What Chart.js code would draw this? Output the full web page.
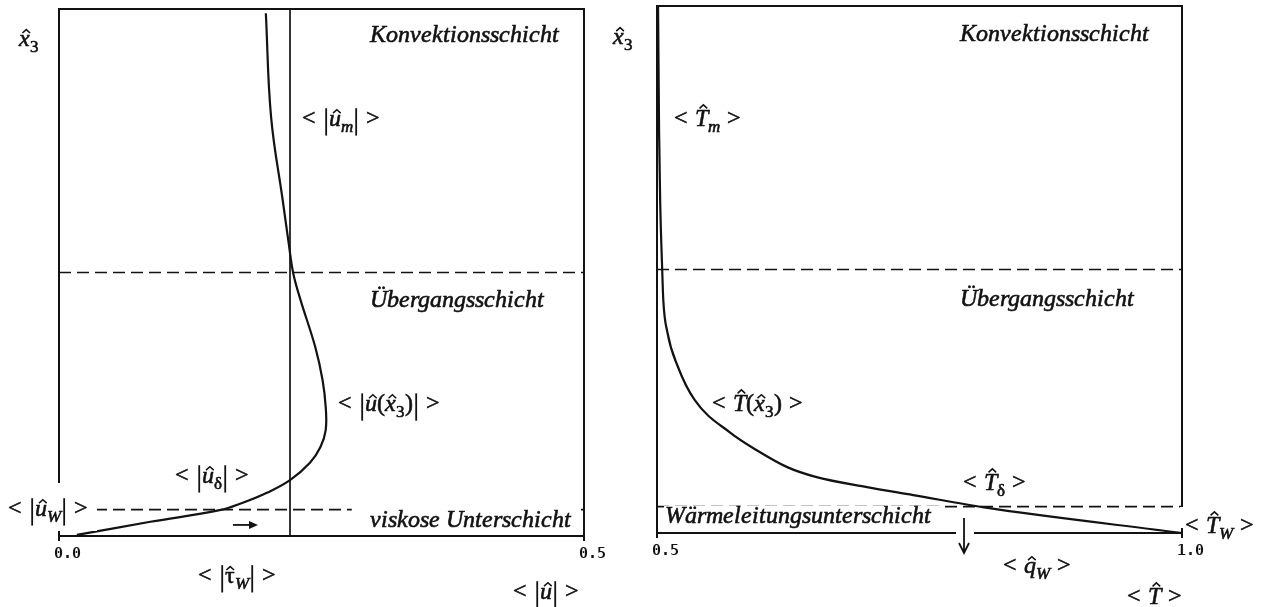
<!DOCTYPE html>
<html>
<head>
<meta charset="utf-8">
<script src="https://cdn.jsdelivr.net/npm/chart.js@4.4.1/dist/chart.umd.min.js"></script>
<style>
	@font-face { font-family: 'FigSerif'; font-style: normal; font-weight: 400; src: local('Liberation Serif'), local('LiberationSerif'); }
	@font-face { font-family: 'FigSerif'; font-style: italic; font-weight: 400; src: local('Liberation Serif Italic'), local('LiberationSerif-Italic'); }
	@font-face { font-family: 'FigMono'; font-style: normal; font-weight: 700; src: local('DejaVu Sans Mono Bold'), local('DejaVuSansMono-Bold'); }
	html, body { margin: 0; background: #fff; }
	#wrap { position: relative; width: 1267px; height: 607px; }
	#wrap canvas { position: absolute; left: 0; top: 0; }
</style>
</head>
<body>
<div id="wrap">
	<canvas id="velChart" width="1267" height="607"></canvas>
	<canvas id="tempChart" width="1267" height="607"></canvas>
</div>
<script>
// Geschwindigkeitsprofil <|û(x̂3)|> (x = <|û|>, y = x̂3 normiert)
const velX = [0.197, 0.202, 0.213, 0.219, 0.223, 0.230, 0.244, 0.251, 0.254, 0.254, 0.249, 0.239, 0.220, 0.198, 0.175, 0.153, 0.087, 0.017];
const velY = [0.992, 0.795, 0.638, 0.552, 0.499, 0.448, 0.359, 0.296, 0.245, 0.201, 0.169, 0.139, 0.106, 0.082, 0.063, 0.049, 0.027, 0.002];
// Temperaturprofil <T̂(x̂3)>
const tempX = [0.501, 0.502, 0.503, 0.505, 0.506, 0.510, 0.520, 0.536, 0.570, 0.595, 0.624, 0.652, 0.700, 0.744, 0.810, 1.000];
const tempY = [1.000, 0.759, 0.632, 0.497, 0.442, 0.380, 0.315, 0.252, 0.190, 0.157, 0.125, 0.106, 0.087, 0.072, 0.049, 0.000];
// Achsen
const velTicks = [0.0, 0.5];
const tempTicks = [0.5, 1.0];
const heightRange = [0, 1];
// Schichtgrenzen und Wandschubspannung
const layerTop = 0.5;      // Konvektions- / Übergangsschicht
const sublayerTop = 0.05;  // viskose bzw. Wärmeleitungsunterschicht
const tauWall = 0.22;      // <|τ̂_W|>

const INK = '#121212';
const SERIF = 'FigSerif, "Liberation Serif", "Times New Roman", serif';
const MONO = 'FigMono, "DejaVu Sans Mono", monospace';

function setFont(ctx, size, italic) {
	ctx.font = (italic ? 'italic ' : '') + size + 'px ' + SERIF;
}

// Text etwas kräftiger setzen
function ink(ctx, s, x, y) {
	ctx.lineWidth = 0.6;
	ctx.fillText(s, x, y);
	ctx.strokeText(s, x, y);
}

function drawHat(ctx, cx, top, w) {
	ctx.beginPath();
	ctx.moveTo(cx - w / 2, top + w * 0.45);
	ctx.lineTo(cx, top);
	ctx.lineTo(cx + w / 2, top + w * 0.45);
	ctx.stroke();
}

// kleine Formelsprache: ^ = Dach über dem nächsten Zeichen, _ = Index, | = Betragsstrich
function drawMath(ctx, str, x, y, size) {
	let cx = x, hat = false, sub = false;
	for (const ch of str) {
		if (ch === '^') { hat = true; continue; }
		if (ch === '_') { sub = true; continue; }
		if (ch === ' ') { cx += size * 0.3; continue; }
		if (ch === '|') {
			ctx.lineWidth = 1.8;
			ctx.beginPath();
			ctx.moveTo(cx + 3, y - size * 0.74);
			ctx.lineTo(cx + 3, y + size * 0.4);
			ctx.stroke();
			cx += 6;
			continue;
		}
		const italic = /[A-Za-z]/.test(ch);
		const fs = sub ? Math.round(size * 0.72) : size;
		const by = sub ? y + size * 0.25 : y;
		setFont(ctx, fs, italic);
		ink(ctx, ch, cx, by);
		const w = ctx.measureText(ch).width;
		if (hat) {
			const tall = /[A-Z]/.test(ch);
			const top = by - fs * (tall ? 0.66 : 0.46) - fs * 0.22;
			ctx.lineWidth = 1.5;
			drawHat(ctx, cx + w * 0.5 + (italic ? fs * 0.07 : 0), top, fs * 0.32);
		}
		cx += w;
		hat = false;
		sub = false;
	}
}

// Rahmen um die Zeichenfläche
const framePlugin = {
	id: 'frame',
	beforeDatasetsDraw(chart) {
		const { ctx, chartArea: a } = chart;
		ctx.save();
		ctx.strokeStyle = INK;
		ctx.lineWidth = 2;
		ctx.strokeRect(a.left, a.top, a.right - a.left, a.bottom - a.top);
		ctx.restore();
	}
};

// Beschriftungen in Datenkoordinaten
function notesPlugin(items) {
	return {
		id: 'notes',
		afterDraw(chart) {
			const { ctx } = chart;
			const sx = chart.scales.x, sy = chart.scales.y;
			ctx.save();
			ctx.textAlign = 'left';
			ctx.textBaseline = 'alphabetic';
			items.forEach(n => {
				const px = sx.getPixelForValue(n.x);
				const py = sy.getPixelForValue(n.y);
				if (n.bg) {
					ctx.fillStyle = '#fff';
					ctx.fillRect(px + n.bg[0], py + n.bg[1], n.bg[2] - n.bg[0], n.bg[3] - n.bg[1]);
				}
				ctx.fillStyle = INK;
				ctx.strokeStyle = INK;
				if (n.kind === 'text') {
					setFont(ctx, 24, true);
					ink(ctx, n.s, px, py);
				} else if (n.kind === 'math') {
					drawMath(ctx, n.s, px, py, 24);
				} else if (n.kind === 'arrowR') {
					const px2 = sx.getPixelForValue(n.x2);
					ctx.lineWidth = 1.8;
					ctx.beginPath();
					ctx.moveTo(px, py);
					ctx.lineTo(px2 - 6, py);
					ctx.stroke();
					ctx.beginPath();
					ctx.moveTo(px2, py);
					ctx.lineTo(px2 - 9, py - 4);
					ctx.lineTo(px2 - 9, py + 4);
					ctx.closePath();
					ctx.fill();
				} else if (n.kind === 'arrowD') {
					const py2 = sy.getPixelForValue(n.y2);
					ctx.lineWidth = 1.8;
					ctx.beginPath();
					ctx.moveTo(px, py);
					ctx.lineTo(px, py2);
					ctx.moveTo(px - 5, py2 - 10);
					ctx.lineTo(px, py2);
					ctx.lineTo(px + 5, py2 - 10);
					ctx.stroke();
				}
			});
			ctx.restore();
		}
	};
}

const pts = (xs, ys) => xs.map((v, i) => ({ x: v, y: ys[i] }));

function curve(data, extra) {
	return Object.assign({
		data: data,
		showLine: true,
		borderColor: INK,
		borderWidth: 2.2,
		pointRadius: 0,
		fill: false
	}, extra);
}

function dashed(data) {
	return curve(data, { borderWidth: 1.7, borderDash: [12, 6] });
}

function panel(id, ticks, pad, axisH, datasets, notes) {
	return new Chart(document.getElementById(id), {
		type: 'scatter',
		data: { datasets: datasets },
		options: {
			responsive: false,
			animation: false,
			layout: { padding: pad },
			plugins: {
				legend: { display: false },
				tooltip: { enabled: false }
			},
			scales: {
				x: {
					type: 'linear',
					min: ticks[0],
					max: ticks[1],
					afterFit: s => { s.height = axisH; },
					border: { display: true, color: INK, width: 2 },
					grid: { drawOnChartArea: false, color: INK, lineWidth: 2, tickLength: 5 },
					ticks: {
						stepSize: ticks[1] - ticks[0],
						color: INK,
						padding: 4,
						labelOffset: 8,
						maxRotation: 0,
						font: { family: MONO, size: 15, weight: 'bold' },
						callback: v => Number(v).toFixed(1)
					}
				},
				y: { type: 'linear', min: heightRange[0], max: heightRange[1], display: false }
			}
		},
		plugins: [framePlugin, notesPlugin(notes)]
	});
}

function drawAll() {
	// linkes Bild: Geschwindigkeit
	panel('velChart', velTicks, { left: 59, right: 683, top: 9, bottom: 0 }, 71, [
		curve(pts(velX, velY), { tension: 0.4 }),
		dashed([{ x: velTicks[0], y: layerTop }, { x: velTicks[1], y: layerTop }]),
		dashed([{ x: velTicks[0], y: sublayerTop }, { x: velTicks[1], y: sublayerTop }]),
		curve([{ x: tauWall, y: heightRange[0] }, { x: tauWall, y: heightRange[1] }], { borderWidth: 1.7 })
	], [
		{ kind: 'math', s: '^x_3', x: -0.038, y: 0.930 },
		{ kind: 'text', s: 'Konvektionsschicht', x: 0.296, y: 0.937 },
		{ kind: 'text', s: 'Übergangsschicht', x: 0.296, y: 0.4345 },
		{ kind: 'text', s: 'viskose Unterschicht', x: 0.296, y: 0.017, bg: [-18, -22, 207, 5] },
		{ kind: 'math', s: '< |^u_m| >', x: 0.2314, y: 0.778 },
		{ kind: 'math', s: '< |^u(^x_3)| >', x: 0.2657, y: 0.237 },
		{ kind: 'math', s: '< |^u_δ| >', x: 0.1105, y: 0.1006 },
		{ kind: 'math', s: '< |^u_W| >', x: -0.0486, y: 0.038, bg: [-8, -33, 89, 15] },
		{ kind: 'math', s: '< |^τ_W| >', x: 0.1324, y: -0.089 },
		{ kind: 'math', s: '< |^u| >', x: 0.4324, y: -0.1195 },
		{ kind: 'arrowR', x: 0.1657, x2: 0.1895, y: 0.021 }
	]);

	// rechtes Bild: Temperatur
	panel('tempChart', tempTicks, { left: 657, right: 85, top: 6, bottom: 0 }, 74, [
		curve(pts(tempX, tempY), { tension: 0.4, cubicInterpolationMode: 'monotone' }),
		dashed([{ x: tempTicks[0], y: layerTop }, { x: tempTicks[1], y: layerTop }]),
		dashed([{ x: tempTicks[0], y: sublayerTop }, { x: tempTicks[1], y: sublayerTop }])
	], [
		{ kind: 'math', s: '^x_3', x: 0.458, y: 0.928 },
		{ kind: 'text', s: 'Konvektionsschicht', x: 0.7886, y: 0.9336 },
		{ kind: 'text', s: 'Übergangsschicht', x: 0.7886, y: 0.4307 },
		{ kind: 'text', s: 'Wärmeleitungsunterschicht', x: 0.5076, y: 0.019, bg: [-1, -17, 275, 7] },
		{ kind: 'math', s: '< ^T_m >', x: 0.5162, y: 0.7723 },
		{ kind: 'math', s: '< ^T(^x_3) >', x: 0.5524, y: 0.2315 },
		{ kind: 'math', s: '< ^T_δ >', x: 0.7914, y: 0.0816 },
		{ kind: 'math', s: '< ^T_W >', x: 1.0029, y: 0.0, bg: [-5, -26, 77, -5] },
		{ kind: 'math', s: '< ^q_W >', x: 0.8295, y: -0.0759 },
		{ kind: 'math', s: '< ^T >', x: 0.9476, y: -0.1347 },
		{ kind: 'arrowD', x: 0.7924, y: 0.0285, y2: -0.038, bg: [-8, 10, 10, 20] }
	]);
}

// erst zeichnen, wenn die Schriften bereitstehen
Promise.all([
	document.fonts.load('24px FigSerif'),
	document.fonts.load('italic 24px FigSerif'),
	document.fonts.load('bold 15px FigMono')
]).catch(() => {}).then(drawAll);
</script>
</body>
</html>
